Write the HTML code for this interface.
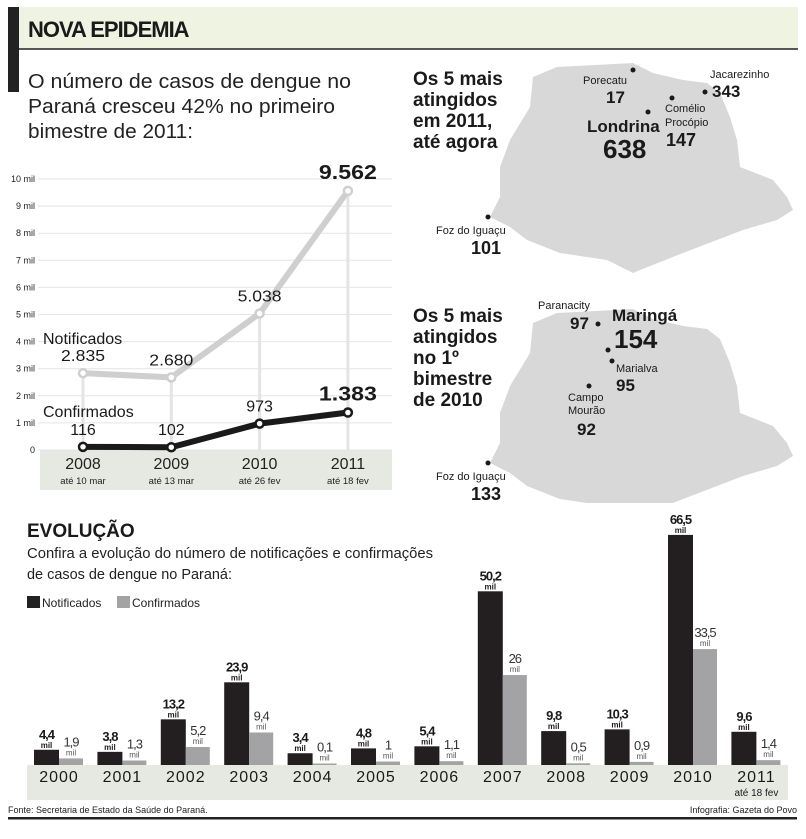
<!DOCTYPE html>
<html><head><meta charset="utf-8"><style>
html,body{margin:0;padding:0;background:#fff}
svg{display:block;font-family:"Liberation Sans",sans-serif}
</style></head><body>
<svg id="s" width="806" height="839" viewBox="0 0 806 839" xmlns="http://www.w3.org/2000/svg">
<defs><clipPath id="clip2"><rect x="400" y="280" width="406" height="223"/></clipPath></defs>
<rect x="8" y="7" width="790" height="42" fill="#eef4e1"/>
<rect x="8" y="7" width="11" height="85" fill="#222"/>
<line x1="19" y1="49" x2="798" y2="49" stroke="#222" stroke-width="1.5"/>
<text x="28" y="37" font-size="22" font-weight="bold" fill="#1a1a1a" letter-spacing="-1">NOVA EPIDEMIA</text>
<g font-size="20" fill="#222">
<text x="28" y="88" textLength="323" lengthAdjust="spacingAndGlyphs">O número de casos de dengue no</text>
<text x="28" y="113" textLength="307" lengthAdjust="spacingAndGlyphs">Paraná cresceu 42% no primeiro</text>
<text x="28" y="138" textLength="165" lengthAdjust="spacingAndGlyphs">bimestre de 2011:</text>
</g>
<g id="maps">
<path id="pr" d="M533,77 L557,67 L633,63 L653,73 L683,80 L707,83 L720,93 L730,117 L737,140 L740,167 L773,180 L787,197 L793,210 L777,220 L743,230 L717,240 L683,253 L640,270 L633,273 L607,260 L560,253 L527,240 L510,227 L490,217 L500,197 L500,167 L510,140 L530,107 Z" fill="#d8d8d8"/>
<g clip-path="url(#clip2)">
<path d="M533,77 L557,67 L633,63 L653,73 L683,80 L707,83 L720,93 L730,117 L737,140 L740,167 L773,180 L787,197 L793,210 L777,220 L743,230 L717,240 L683,253 L640,270 L633,273 L607,260 L560,253 L527,240 L510,227 L490,217 L500,197 L500,167 L510,140 L530,107 Z" transform="translate(0,246)" fill="#d8d8d8"/>
</g>
<g font-weight="bold" font-size="19" fill="#1a1a1a">
<text x="413" y="85">Os 5 mais</text><text x="413" y="106">atingidos</text><text x="413" y="127">em 2011,</text><text x="413" y="148">até agora</text></g>
<g font-weight="bold" font-size="19" fill="#1a1a1a">
<text x="413" y="322">Os 5 mais</text><text x="413" y="343">atingidos</text><text x="413" y="364">no 1º</text><text x="413" y="385">bimestre</text><text x="413" y="406">de 2010</text></g>
<g fill="#1a1a1a">
<circle cx="633" cy="70" r="2.5"/><text x="583" y="84" font-size="11">Porecatu</text><text x="606" y="103" font-size="17" font-weight="bold">17</text>
<circle cx="705" cy="92" r="2.5"/><text x="710" y="78" font-size="11">Jacarezinho</text><text x="712" y="97" font-size="17" font-weight="bold">343</text>
<circle cx="672" cy="98" r="2.5"/><text x="665" y="112" font-size="11">Comélio</text><text x="665" y="126" font-size="11">Procópio</text><text x="666" y="146" font-size="18" font-weight="bold">147</text>
<circle cx="648" cy="112" r="2.5"/><text x="587" y="132" font-size="17" font-weight="bold">Londrina</text><text x="603" y="158" font-size="26" font-weight="bold">638</text>
<circle cx="488" cy="217" r="2.5"/><text x="436" y="234" font-size="11">Foz do Iguaçu</text><text x="471" y="254" font-size="18" font-weight="bold">101</text>
<text x="538" y="309" font-size="11">Paranacity</text><text x="570" y="329" font-size="17" font-weight="bold">97</text><circle cx="598" cy="324" r="2.5"/>
<text x="612" y="321" font-size="17" font-weight="bold">Maringá</text><text x="614" y="348" font-size="26" font-weight="bold">154</text><circle cx="608" cy="350" r="2.5"/>
<circle cx="612" cy="361" r="2.5"/><text x="616" y="372" font-size="11">Marialva</text><text x="616" y="391" font-size="17" font-weight="bold">95</text>
<circle cx="589" cy="386" r="2.5"/><text x="568" y="401" font-size="11">Campo</text><text x="568" y="414" font-size="11">Mourão</text><text x="577" y="435" font-size="17" font-weight="bold">92</text>
<circle cx="488" cy="463" r="2.5"/><text x="436" y="480" font-size="11">Foz do Iguaçu</text><text x="471" y="500" font-size="18" font-weight="bold">133</text>
</g>
</g>
<g id="line"></g>
<g id="bars"></g>
<text x="27" y="537" font-size="19" font-weight="bold" fill="#1a1a1a">EVOLUÇÃO</text>
<text x="27" y="558" font-size="15" fill="#222" textLength="406" lengthAdjust="spacingAndGlyphs">Confira a evolução do número de notificações e confirmações</text>
<text x="27" y="579" font-size="15" fill="#222" textLength="205" lengthAdjust="spacingAndGlyphs">de casos de dengue no Paraná:</text>
<rect x="27" y="596" width="13" height="12" fill="#222"/>
<text x="42" y="607" font-size="12" fill="#222">Notificados</text>
<rect x="117" y="596" width="13" height="12" fill="#a3a3a6"/>
<text x="132" y="607" font-size="12" fill="#222">Confirmados</text>
<text x="8" y="813" font-size="9" fill="#222">Fonte: Secretaria de Estado da Saúde do Paraná.</text>
<text x="797" y="813" font-size="9" fill="#222" text-anchor="end">Infografia: Gazeta do Povo</text>
<rect x="8" y="817" width="789" height="2.5" fill="#222"/>
</svg>
<script>
const lineYears=["2008","2009","2010","2011"];
const lineSub=["até 10 mar","até 13 mar","até 26 fev","até 18 fev"];
const notificados=[2835,2680,5038,9562];
const confirmados=[116,102,973,1383];
const yTicks=[0,1,2,3,4,5,6,7,8,9,10];

const barYears=["2000","2001","2002","2003","2004","2005","2006","2007","2008","2009","2010","2011"];
const barNotif=[4.4,3.8,13.2,23.9,3.4,4.8,5.4,50.2,9.8,10.3,66.5,9.6];
const barConf=[1.9,1.3,5.2,9.4,0.1,1,1.1,26,0.5,0.9,33.5,1.4];

const NS="http://www.w3.org/2000/svg";
function mk(p,t,a,txt){const e=document.createElementNS(NS,t);for(const k in a)e.setAttribute(k,a[k]);if(txt!==undefined)e.textContent=txt;p.appendChild(e);return e;}
function fmt(v){return v>=1000?String(v).replace(/(\d)(\d{3})$/,"$1.$2"):String(v);}
function fmtc(v){return String(v).replace(".",",");}

// line chart
const L=document.getElementById("line");
const ly=v=>450-v*27.1/1000;
const lx=i=>83+i*88.3;
const lb=mk(L,"rect",{x:40,y:450,width:352,height:40,fill:"#e6e9e2"});


yTicks.forEach(t=>{
  const g=mk(L,"line",{x1:38,x2:392,y1:ly(t*1000),y2:ly(t*1000),stroke:"#e4e4e4","stroke-width":1});
  
  
  const tx=mk(L,"text",{x:35,y:ly(t*1000)+3,"font-size":9,"text-anchor":"end",fill:"#222"},t===0?"0":t+" mil");
  
  
});
lineYears.forEach((y,i)=>{
  const v=mk(L,"line",{x1:lx(i),x2:lx(i),y1:ly(notificados[i]),y2:450,stroke:"#e4e4e4","stroke-width":3});
  
  
  const a=mk(L,"text",{x:lx(i),y:469,"font-size":16,"text-anchor":"middle",fill:"#222"},y);
  
  
  const b=mk(L,"text",{x:lx(i),y:484,"font-size":9.5,"text-anchor":"middle",fill:"#222"},lineSub[i]);
  
  
});
function series(vals,col,name){
  const p=mk(L,"polyline",{points:vals.map((v,i)=>lx(i)+","+ly(v)).join(" "),fill:"none",stroke:col,"stroke-width":6,"stroke-linejoin":"round"});
  
  
  vals.forEach((v,i)=>{
    const c=mk(L,"circle",{cx:lx(i),cy:ly(v),r:4,fill:"#fff",stroke:col,"stroke-width":2.5});
    
    
    const last=i===vals.length-1;
    const t=mk(L,"text",{x:lx(i),y:ly(v)-12,"font-size":last?20:16,"font-weight":last?"bold":"normal","text-anchor":"middle",fill:"#1a1a1a",textLength:last?58:44,lengthAdjust:"spacingAndGlyphs"},fmt(v));
    if(v<1000){t.removeAttribute("textLength");}
    
    
  });
}
series(notificados,"#cfcfcf","notificados");
series(confirmados,"#1a1a1a","confirmados");
const n1=mk(L,"text",{x:43,y:344,"font-size":16,fill:"#1a1a1a"},"Notificados");


const n2=mk(L,"text",{x:43,y:417,"font-size":16,fill:"#1a1a1a"},"Confirmados");



// bar chart
const B=document.getElementById("bars");
const base=765,k=3.46;
const bx=i=>34+i*63.4;
const band=mk(B,"rect",{x:27,y:765,width:761,height:35,fill:"#e6e9e2"});


barYears.forEach((y,i)=>{
  const x=bx(i),h1=barNotif[i]*k,h2=Math.max(barConf[i]*k,1.5);
  const r1=mk(B,"rect",{x:x,y:base-h1,width:25,height:h1,fill:"#231f20"});
  
  
  const r2=mk(B,"rect",{x:x+25,y:base-h2,width:24,height:h2,fill:"#a3a3a6"});
  
  
  const t1=mk(B,"text",{x:x+12.5,y:base-h1-11,"font-size":13,"font-weight":"bold","text-anchor":"middle",fill:"#1a1a1a","letter-spacing":"-1"},fmtc(barNotif[i]));
  
  
  const m1=mk(B,"text",{x:x+12.5,y:base-h1-2,"font-size":8,"font-weight":"bold","text-anchor":"middle",fill:"#1a1a1a"},"mil");
  
  
  const t2=mk(B,"text",{x:x+37,y:base-h2-12,"font-size":13,"text-anchor":"middle",fill:"#333","letter-spacing":"-1"},fmtc(barConf[i]));
  
  
  const m2=mk(B,"text",{x:x+37,y:base-h2-3,"font-size":8,"text-anchor":"middle",fill:"#555"},"mil");
  
  
  const yl=mk(B,"text",{x:x+25,y:782,"font-size":16,"text-anchor":"middle",fill:"#1a1a1a","letter-spacing":"1"},y);
  
  
});
const sub=mk(B,"text",{x:bx(11)+25,y:796,"font-size":10,"text-anchor":"middle",fill:"#1a1a1a"},"até 18 fev");


</script>
</body></html>
